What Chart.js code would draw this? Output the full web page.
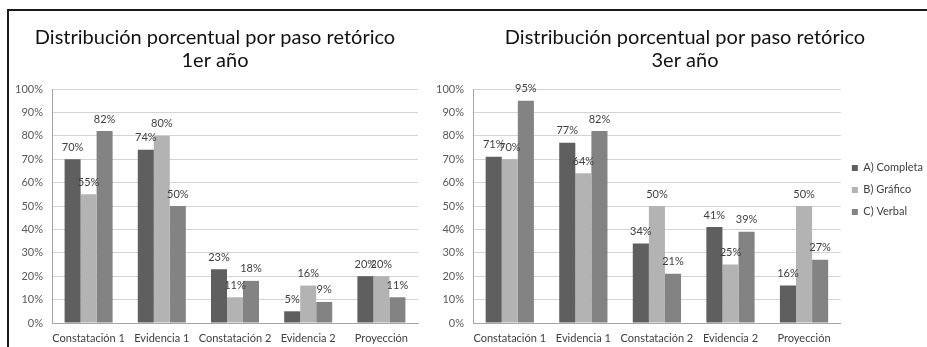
<!DOCTYPE html>
<html>
<head>
<meta charset="utf-8">
<script src="https://cdn.jsdelivr.net/npm/chart.js@4"></script>
<style>
    html, body { margin: 0; padding: 0; background: #fff; }
    body { width: 927px; height: 347px; position: relative; overflow: hidden; }
    .frame-top { position: absolute; left: 7px; top: 9px; width: 920px; height: 2px; background: #1a1a1a; }
    .frame-left { position: absolute; left: 7px; top: 9px; width: 2px; height: 338px; background: #1a1a1a; }
    .box { position: absolute; top: 12px; height: 335px; }
    #box-1 { left: 12px; width: 423px; }
    #box-3 { left: 437px; width: 496px; }
</style>
</head>
<body>
<div class="frame-top"></div>
<div class="frame-left"></div>
<div class="box" id="box-1"><canvas id="chart-1"></canvas></div>
<div class="box" id="box-3"><canvas id="chart-3"></canvas></div>

<script>
// Data
const categories = ['Constatación 1', 'Evidencia 1', 'Constatación 2', 'Evidencia 2', 'Proyección'];
const seriesNames = ['A) Completa', 'B) Gráfico', 'C) Verbal'];

const year1Completa = [70, 74, 23, 5, 20];
const year1Grafico = [55, 80, 11, 16, 20];
const year1Verbal = [82, 50, 18, 9, 11];

const year3Completa = [71, 77, 34, 41, 16];
const year3Grafico = [70, 64, 50, 25, 50];
const year3Verbal = [95, 82, 21, 39, 27];

const yTicks = [0, 10, 20, 30, 40, 50, 60, 70, 80, 90, 100];

// Styles
const colors = ['#5f5f5f', '#b3b3b3', '#838383'];
const FONT = 'Lato, "Liberation Sans", sans-serif';

// Draws the % value above each bar
const valueLabels = {
    id: 'valueLabels',
    afterDatasetsDraw(chart) {
        const ctx = chart.ctx;
        ctx.save();
        ctx.font = '11px ' + FONT;
        ctx.fillStyle = '#404040';
        ctx.textAlign = 'center';
        ctx.textBaseline = 'middle';
        chart.data.datasets.forEach((ds, i) => {
            const meta = chart.getDatasetMeta(i);
            meta.data.forEach((bar, j) => {
                ctx.fillText(Math.round(ds.data[j]) + '%', bar.x, bar.y - 12);
            });
        });
        ctx.restore();
    }
};

function makeChart(id, title, a, b, c, yWidth, padRight, showLegend) {
    const ctx = document.getElementById(id).getContext('2d');
    const values = [a, b, c];
    return new Chart(ctx, {
        type: 'bar',
        data: {
            labels: categories,
            datasets: seriesNames.map((name, i) => ({
                label: name,
                data: values[i],
                backgroundColor: colors[i],
                borderWidth: 0,
                barPercentage: 1,
                categoryPercentage: 0.656
            }))
        },
        options: {
            responsive: true,
            maintainAspectRatio: false,
            animation: false,
            layout: { padding: { left: 0, right: padRight, top: 0, bottom: 0 } },
            plugins: {
                title: {
                    display: true,
                    text: ['Distribución porcentual por paso retórico', title],
                    color: '#111',
                    font: { family: FONT, size: 20, weight: 'normal', lineHeight: 1.15 },
                    padding: { top: 14, bottom: 17 }
                },
                legend: {
                    display: showLegend,
                    position: 'right',
                    align: 'start',
                    // empty title only used to push the items down
                    title: { display: true, text: '', font: { size: 12 }, padding: { top: 125, bottom: 0 } },
                    labels: {
                        color: '#404040',
                        font: { family: FONT, size: 11 },
                        boxWidth: 6,
                        boxHeight: 6,
                        padding: 11
                    }
                },
                tooltip: { enabled: false }
            },
            scales: {
                x: {
                    grid: { display: false, drawTicks: false },
                    border: { color: '#a6a6a6' },
                    ticks: {
                        color: '#404040',
                        font: { family: FONT, size: 11 },
                        padding: 9,
                        maxRotation: 0,
                        autoSkip: false
                    },
                    afterFit: (s) => { s.height = 24; }
                },
                y: {
                    min: 0,
                    max: 100,
                    grid: { color: '#d4d4d4', drawTicks: false },
                    border: { color: '#a6a6a6' },
                    afterBuildTicks: (s) => { s.ticks = yTicks.map(v => ({ value: v })); },
                    ticks: {
                        color: '#595959',
                        font: { family: FONT, size: 11 },
                        padding: 9,
                        callback: (v) => v + '%'
                    },
                    afterFit: (s) => { s.width = yWidth; }
                }
            }
        },
        plugins: [valueLabels]
    });
}

makeChart('chart-1', '1er año', year1Completa, year1Grafico, year1Verbal, 40, 17, false);
makeChart('chart-3', '3er año', year3Completa, year3Grafico, year3Verbal, 36, 0, true);
</script>
</body>
</html>
